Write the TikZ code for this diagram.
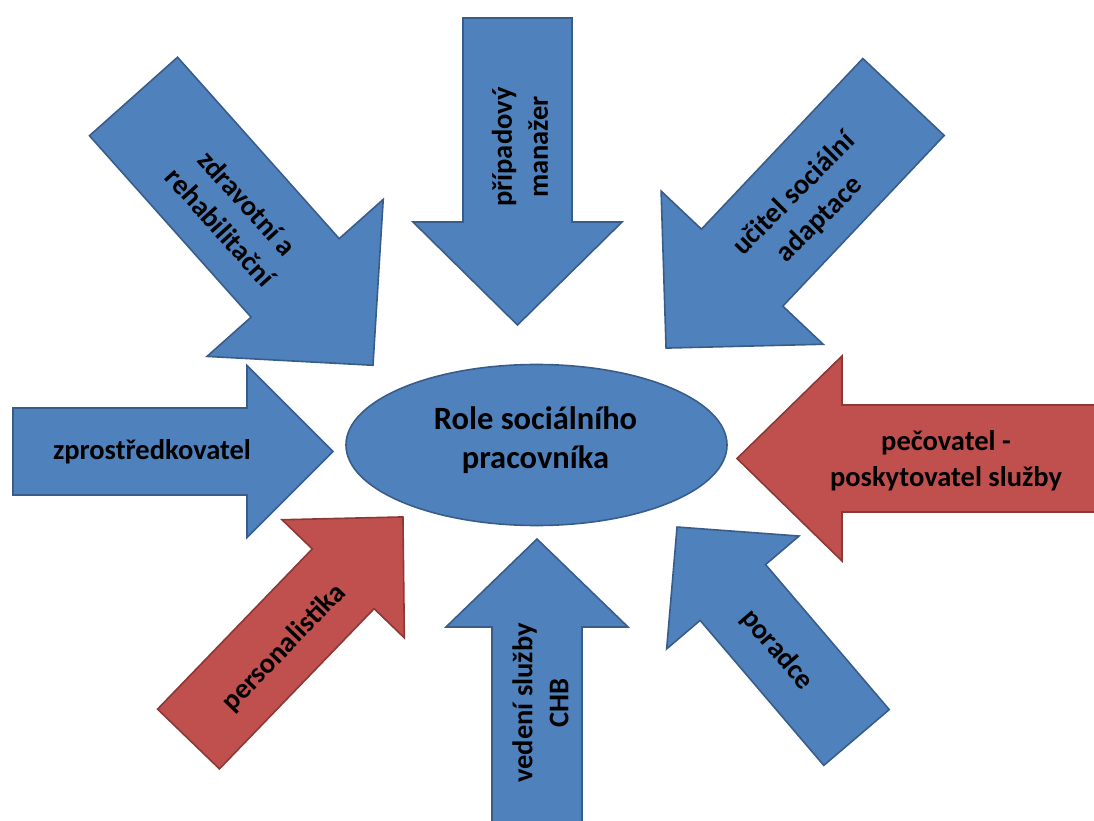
\documentclass[tikz,border=0pt]{standalone}
\usepackage{fontspec}
\setmainfont{Carlito}
\usetikzlibrary{shapes.geometric}
\definecolor{ablue}{HTML}{4F81BD}
\definecolor{ablueline}{HTML}{385D8A}
\definecolor{ared}{HTML}{C0504D}
\definecolor{aredline}{HTML}{8C3836}
\tikzset{
  bluearrow/.style={fill=ablue, draw=ablueline, line width=1.6pt, line join=miter},
  redarrow/.style={fill=ared, draw=aredline, line width=1.6pt, line join=miter},
  lbl/.style={font=\bfseries\fontsize{28.5}{36}\selectfont, align=center, text=black, inner sep=0pt},
  centerlbl/.style={font=\bfseries\fontsize{32.5}{39}\selectfont, align=center, text=black, inner sep=0pt},
  hub/.style={ellipse, fill=ablue, draw=ablueline, line width=1.6pt, minimum width=381pt, minimum height=161pt, inner sep=0pt},
}
% #1 style, #2 x, #3 y, #4 angle, #5 length, #6 half shaft width, #7 half head width, #8 head length
\newcommand{\bigarrow}[8]{%
  \begin{scope}[shift={(#2,#3)}, rotate=#4]
    \path[#1] (0,#6) -- ({#5-#8},#6) -- ({#5-#8},#7) -- (#5,0) -- ({#5-#8},-#7) -- ({#5-#8},-#6) -- (0,-#6) -- cycle;
  \end{scope}}
\begin{document}
\begin{tikzpicture}[x=1pt,y=1pt]
  \useasboundingbox (0,0) rectangle (1094,820);
  \clip (0,0) rectangle (1094,820);
  \fill[white] (0,0) rectangle (1094,820);
  % arrows
  \bigarrow{bluearrow}{133.5}{723.5}{-48.3}{360}{59}{118}{117}
  \bigarrow{bluearrow}{517.5}{802}{-90}{307}{54.5}{104.5}{103}
  \bigarrow{bluearrow}{903.5}{723}{226.6}{345.6}{56}{111.5}{110.7}
  \bigarrow{bluearrow}{13}{368.5}{0}{320}{43.5}{86}{86}
  \bigarrow{redarrow}{1098}{361.5}{180}{361}{53.5}{102.5}{105}
  \bigarrow{redarrow}{188.5}{81}{46.0}{308.7}{43}{85}{86}
  \bigarrow{bluearrow}{537}{-4}{90}{285}{45}{91}{88}
  \bigarrow{bluearrow}{856.5}{82.5}{130.45}{276.6}{43}{87}{86}
  % hub
  \node[hub] (hub) at (536.5,375) {};
  \node[centerlbl] (hubtext) at (535.5,380) {Role sociálního\\pracovníka};
  % labels
  \node[lbl, rotate=-48] (t1) at (234,605) {zdravotní a\\rehabilitační};
  \node[lbl, rotate=90] (t2) at (520,673) {případový\\manažer};
  \node[lbl, rotate=45] (t3) at (807,613) {učitel sociální\\adaptace};
  \node[lbl] (t4) at (152,368) {zprostředkovatel};
  \node[lbl] (t5) at (946,359) {pečovatel -\\poskytovatel služby};
  \node[lbl, rotate=46] (t6) at (284,172) {personalistika};
  \node[lbl, rotate=90] (t7) at (540.5,117) {vedení služby\\CHB};
  \node[lbl, rotate=-49.5] (t8) at (777,170) {poradce};
\end{tikzpicture}
\end{document}
